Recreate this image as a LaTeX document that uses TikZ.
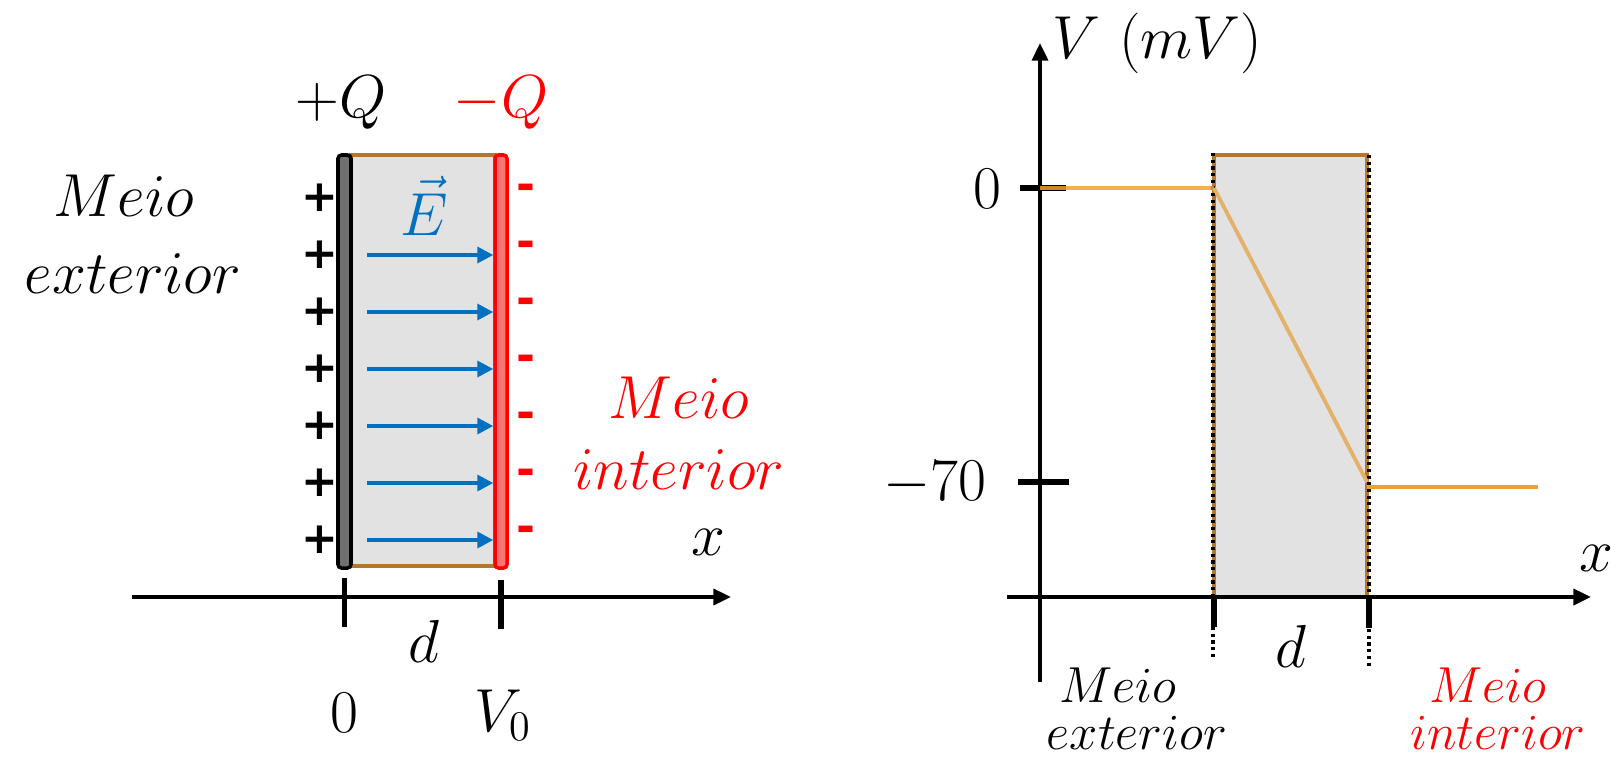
\documentclass[tikz,border=0pt]{standalone}
\usepackage{fontspec}
\usepackage{xcolor}
\usepackage{tikz}
\usetikzlibrary{arrows.meta, positioning}
\newfontfamily\signfont{DejaVu Sans}
\definecolor{fieldblue}{HTML}{0070C0}
\definecolor{boxfill}{HTML}{E2E2E2}
\definecolor{boxedge}{HTML}{B5782A}
\definecolor{plategray}{HTML}{707070}
\definecolor{platered}{HTML}{FF7373}
\definecolor{vorange}{HTML}{F0A030}
\definecolor{vslant}{HTML}{E2B26A}

\tikzset{
  axis/.style={line width=1.1pt, -{Triangle[length=5pt, width=4.5pt]}},
  tickmark/.style={line width=1.6pt},
  dotline/.style={line width=0.9pt, densely dotted},
  efield/.style={fieldblue, line width=1pt, shorten <=4pt, -{Triangle[length=4.5pt, width=4.5pt]}},
  membrane/.style={fill=boxfill, draw=boxedge, line width=0.9pt},
  plate/.style={rectangle, minimum width=0.13cm, minimum height=4.13cm, inner sep=0pt, line width=1pt, rounded corners=1pt},
  lbl/.style={font=\fontsize{18}{20}\selectfont, inner sep=0pt},
  smalllbl/.style={font=\fontsize{14}{16}\selectfont, inner sep=0pt},
  pluslbl/.style={font=\signfont\bfseries\fontsize{12.5}{14}\selectfont, inner sep=0pt},
  minuslbl/.style={font=\signfont\bfseries\fontsize{13}{15}\selectfont, text=red, inner sep=0pt},
}

\begin{document}
\begin{tikzpicture}
        \useasboundingbox (0,0) rectangle (16.2,7.58);
        % Capacitor
        \filldraw[membrane] (3.51,1.92) rectangle (4.95,6.03);
        \node[plate, draw=black, fill=plategray] (pos) at (3.445,3.965) {};
        \node[plate, draw=red, fill=platered, minimum width=0.12cm] (neg) at (5.01,3.965) {};
        \node[lbl] (qpos) at (3.41,6.55) {$+Q$};
        \node[lbl, text=red] (qneg) at (5.01,6.55) {$-Q$};
        % Charges
        \node[pluslbl] (p1) at (3.20,5.60) {+};
        \node[pluslbl] (p2) at (3.20,5.03) {+};
        \node[pluslbl] (p3) at (3.20,4.46) {+};
        \node[pluslbl] (p4) at (3.20,3.89) {+};
        \node[pluslbl] (p5) at (3.20,3.32) {+};
        \node[pluslbl] (p6) at (3.20,2.75) {+};
        \node[pluslbl] (p7) at (3.20,2.18) {+};
        \node[minuslbl] (m1) at (5.26,5.66) {-};
        \node[minuslbl] (m2) at (5.26,5.09) {-};
        \node[minuslbl] (m3) at (5.26,4.52) {-};
        \node[minuslbl] (m4) at (5.26,3.95) {-};
        \node[minuslbl] (m5) at (5.26,3.38) {-};
        \node[minuslbl] (m6) at (5.26,2.81) {-};
        \node[minuslbl] (m7) at (5.26,2.24) {-};
        % Field
        \node[lbl, text=fieldblue, font=\fontsize{17}{19}\selectfont] (evec) at (4.24,5.52) {$\vec{E}$};
        \draw[efield] (p2 -| pos.east) -- (p2 -| neg.west);
        \draw[efield] (p3 -| pos.east) -- (p3 -| neg.west);
        \draw[efield] (p4 -| pos.east) -- (p4 -| neg.west);
        \draw[efield] (p5 -| pos.east) -- (p5 -| neg.west);
        \draw[efield] (p6 -| pos.east) -- (p6 -| neg.west);
        \draw[efield] (p7 -| pos.east) -- (p7 -| neg.west);
        % Media
        \node[lbl] (extA) at (1.24,5.62) {$Meio$};
        \node[lbl] (extB) at (1.33,4.84) {$exterior$};
        \node[lbl, text=red] (intA) at (6.79,3.60) {$Meio$};
        \node[lbl, text=red] (intB) at (6.79,2.88) {$interior$};
        % Axis
        \coordinate (xstart) at (1.32,1.61);
        \coordinate (xend) at (7.31,1.61);
        \draw[axis] (xstart) -- (xend);
        \draw[tickmark] (3.445,1.80) -- (3.445,1.31);
        \draw[tickmark] (5.01,1.78) -- (5.01,1.29);
        \node[lbl] (xlbl) at (7.08,2.16) {$x$};
        \node[lbl] (dlbl) at (4.24,1.17) {$d$};
        \node[lbl] (zero) at (3.445,0.45) {$0$};
        \node[lbl] (vzero) at (5.03,0.43) {$V_0$};

        % Potential plot
        \filldraw[membrane] (12.14,1.61) rectangle (13.67,6.03);
        \draw[dotline] (12.13,6.05) -- (12.13,0.98);
        \draw[dotline] (13.69,6.03) -- (13.69,0.92);
        \coordinate (vbottom) at (10.40,0.76);
        \coordinate (vtop) at (10.40,7.15);
        \coordinate (hstart) at (10.07,1.61);
        \coordinate (hend) at (15.91,1.61);
        \draw[axis] (vbottom) -- (vtop);
        \draw[axis] (hstart) -- (hend);
        \draw[tickmark] (10.20,5.70) -- (10.66,5.70);
        \draw[tickmark] (10.18,2.76) -- (10.69,2.76);
        \draw[tickmark] (12.14,1.63) -- (12.14,1.31);
        \draw[tickmark] (13.69,1.63) -- (13.69,1.30);
        % Curve
        \coordinate (ca) at (10.40,5.70);
        \coordinate (cb) at (12.14,5.70);
        \coordinate (cc) at (13.67,2.76);
        \coordinate (cd) at (13.67,2.71);
        \coordinate (ce) at (15.38,2.71);
        \draw[vorange, line width=1.1pt, opacity=0.85] (ca) -- (cb);
        \draw[vslant, line width=1.1pt] (cb) -- (cc);
        \draw[vorange, line width=1.1pt] (cd) -- (ce);
        % Labels
        \node[lbl] (vlbl) at (11.57,7.15) {$V\ (mV)$};
        \node[lbl] (xlbl2) at (15.96,2.00) {$x$};
        \node[lbl] (zero2) at (9.87,5.69) {$0$};
        \node[lbl] (seventy) at (9.35,2.75) {$-70$};
        \node[lbl] (dlbl2) at (12.91,1.12) {$d$};
        \node[smalllbl] (extC) at (11.18,0.73) {$Meio$};
        \node[smalllbl] (extD) at (11.37,0.25) {$exterior$};
        \node[smalllbl, text=red] (intC) at (14.88,0.73) {$Meio$};
        \node[smalllbl, text=red] (intD) at (14.98,0.25) {$interior$};
      \end{tikzpicture}
\end{document}
